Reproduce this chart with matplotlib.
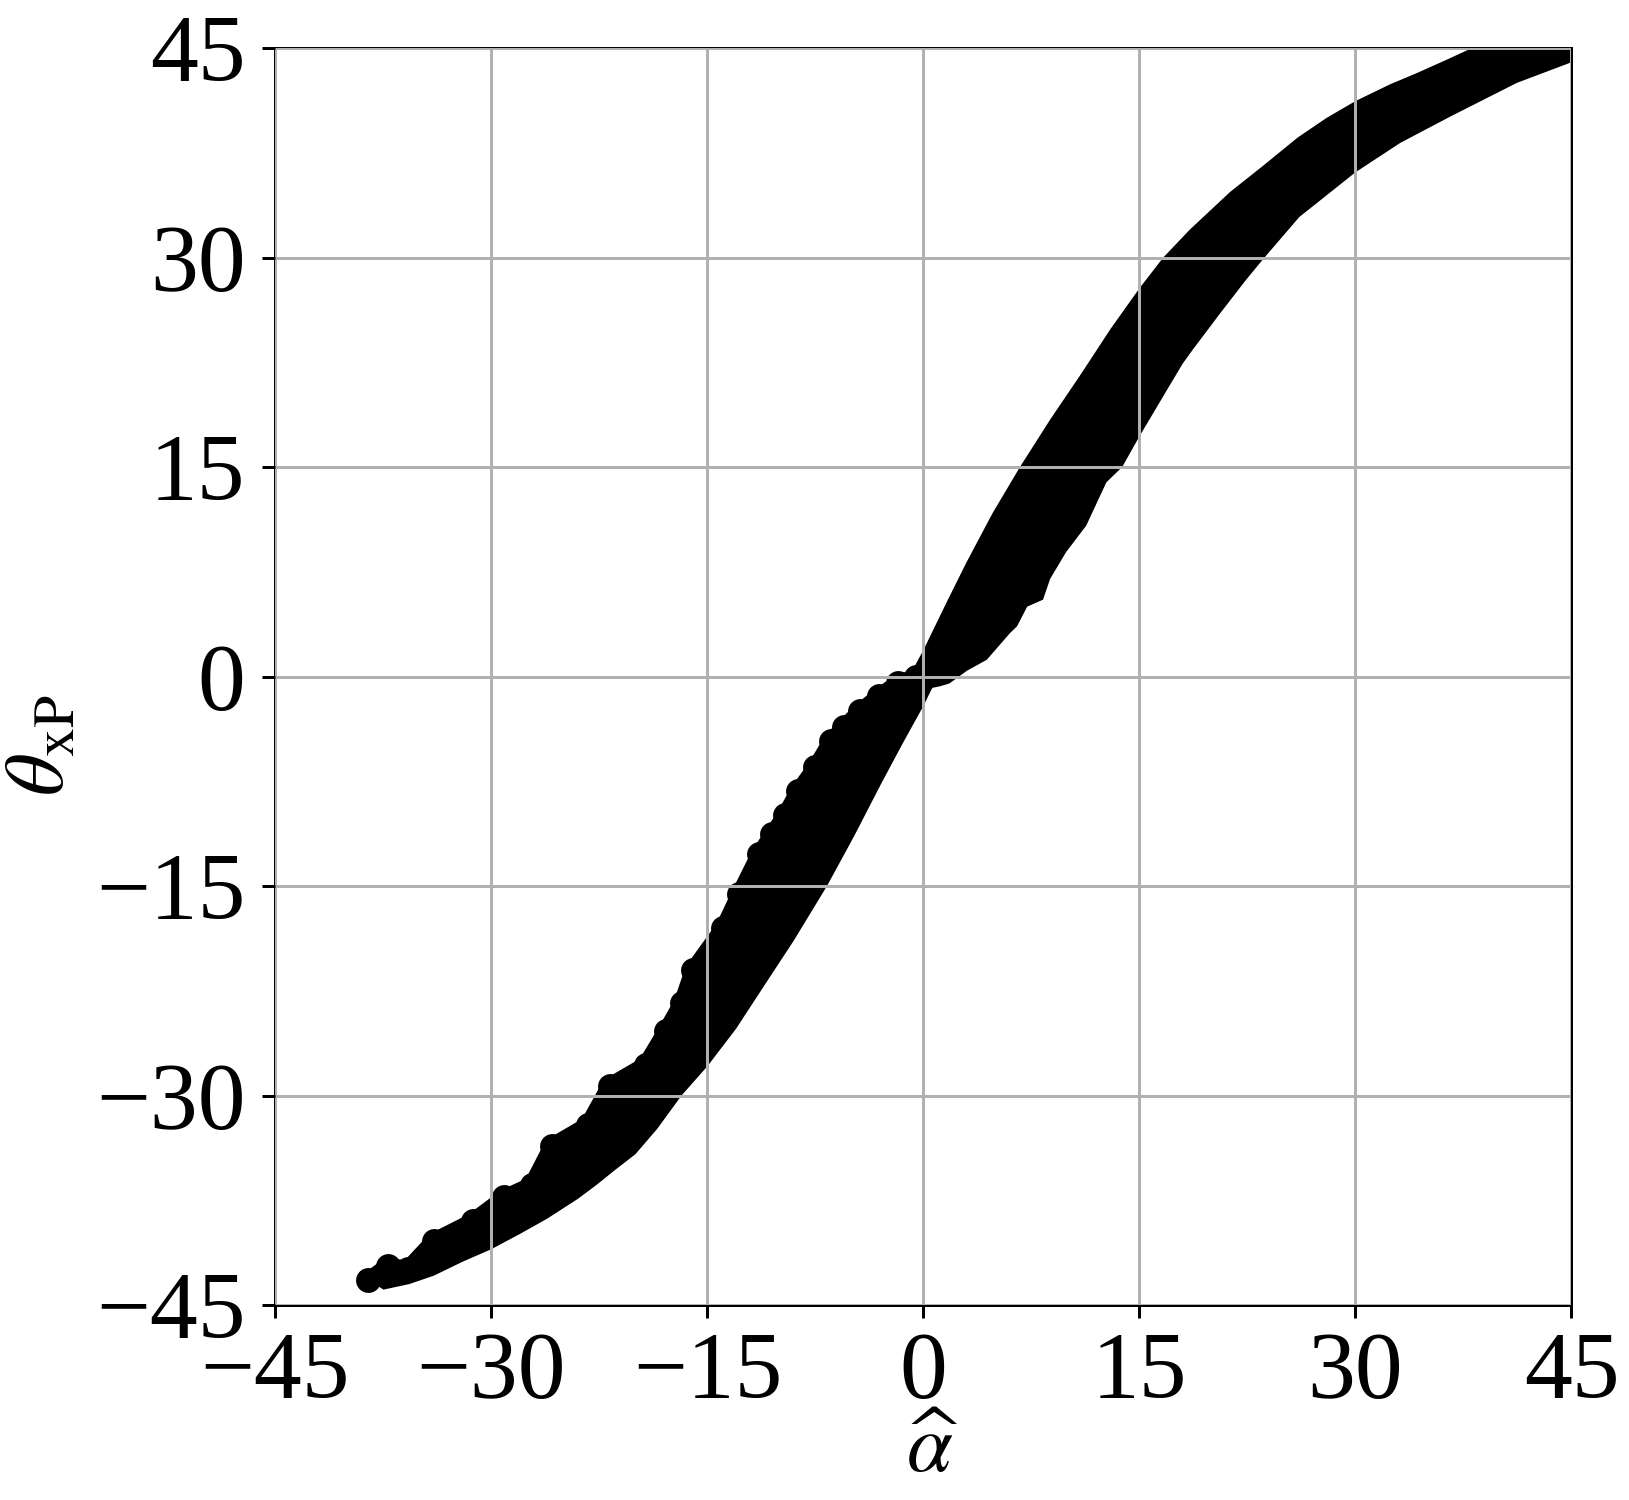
import matplotlib
matplotlib.use("Agg")
import matplotlib.pyplot as plt
import numpy as np

plt.rcParams["font.family"] = ["Liberation Serif", "DejaVu Serif"]
plt.rcParams["mathtext.fontset"] = "stix"

# smooth edge of the band, left half (alpha, theta_xP)
smooth_left_alpha = [-38.55, -37.5, -35.7, -34.0, -32.0, -30.0, -28.0, -26.1, -24.0, -22.7,
                     -21.5, -20.0, -18.5, -16.8, -15.0, -13.0, -11.1, -9.0, -6.7, -4.8,
                     -3.0, -1.5, 0.0, 1.0]
smooth_left_theta = [-43.2, -43.9, -43.5, -42.9, -41.9, -41.0, -39.9, -38.8, -37.4, -36.4,
                     -35.4, -34.2, -32.4, -30.0, -27.9, -25.2, -22.2, -18.9, -15.0, -11.4,
                     -7.8, -4.9, -2.1, 0.0]

# centres of the scattered points on the ragged upper-left edge
bump_left_alpha = [-38.55, -37.2, -35.8, -34.0, -31.3, -29.1, -27.2, -25.8, -23.3, -21.8,
                   -19.3, -17.9, -16.8, -16.0, -13.9, -12.8, -11.4, -10.5, -9.6, -8.7,
                   -7.5, -6.4, -5.5, -4.4, -3.1, -1.8, -0.5]
bump_left_theta = [-43.2, -42.2, -42.4, -40.4, -39.0, -37.3, -36.4, -33.6, -32.1, -29.3,
                   -27.8, -25.4, -23.4, -21.0, -18.0, -15.6, -12.7, -11.3, -9.9, -8.2,
                   -6.5, -4.6, -3.6, -2.5, -1.4, -0.5, 0.0]

# smooth edge of the band, right half
smooth_right_alpha = [-1.0, 0.0, 1.6, 3.0, 4.8, 6.7, 8.8, 10.9, 13.0, 15.0, 16.65, 18.5,
                      21.3, 23.5, 26.0, 28.0, 30.0, 32.4, 34.25, 36.2, 38.1, 42.0, 45.5]
smooth_right_theta = [0.0, 1.9, 5.3, 8.2, 11.7, 15.0, 18.4, 21.6, 24.9, 27.8, 30.0, 32.0,
                      34.7, 36.5, 38.6, 40.0, 41.2, 42.4, 43.2, 44.1, 45.0, 46.3, 47.5]

# ragged lower-right edge
edge_right_alpha = [0.2, 1.15, 1.8, 3.0, 4.4, 6.0, 6.5, 7.2, 8.3, 8.8, 9.9, 11.3, 12.7,
                    13.8, 15.0, 16.9, 18.0, 18.7, 20.6, 22.4, 23.6, 26.1, 30.0, 33.1,
                    36.6, 41.2, 44.8, 45.5]
edge_right_theta = [-0.9, -0.7, -0.5, 0.4, 1.2, 3.1, 3.6, 5.0, 5.5, 7.0, 8.9, 10.8, 13.9,
                    15.0, 17.2, 20.5, 22.4, 23.4, 26.0, 28.4, 29.9, 32.9, 36.1, 38.2,
                    40.1, 42.5, 43.9, 44.3]

ticks = [-45, -30, -15, 0, 15, 30, 45]

fig = plt.figure(figsize=(1629 / 270, 1500 / 270), dpi=270)
ax = fig.add_axes([0.1691, 0.130, 0.7956, 0.838])

# left half of the band: filled body, thick rim, then the round points
ax.fill(np.r_[smooth_left_alpha, bump_left_alpha[::-1]],
        np.r_[smooth_left_theta, bump_left_theta[::-1]],
        color="black", lw=0)
ax.plot(bump_left_alpha, bump_left_theta, color="black", lw=4.3,
        solid_capstyle="round", solid_joinstyle="round")
ax.scatter(bump_left_alpha, bump_left_theta, s=44, color="black", lw=0)

# right half of the band
ax.fill(np.r_[smooth_right_alpha, edge_right_alpha[::-1]],
        np.r_[smooth_right_theta, edge_right_theta[::-1]],
        color="black", lw=0)

ax.set_xlim(-45, 45)
ax.set_ylim(-45, 45)
ax.set_xticks(ticks)
ax.set_yticks(ticks)
ax.tick_params(labelsize=25.5)
ax.tick_params(axis="y", pad=4.5)
ax.grid(True)
ax.set_axisbelow(False)

ax.set_xlabel(r"$\widehat{\alpha}$", fontsize=22)
ax.set_ylabel(r"$\theta_{\mathrm{xP}}$", fontsize=22)
ax.xaxis.set_label_coords(0.5066, -0.087)
ax.yaxis.set_label_coords(-0.150, 0.4455)

fig.savefig("out.png", dpi=270)
